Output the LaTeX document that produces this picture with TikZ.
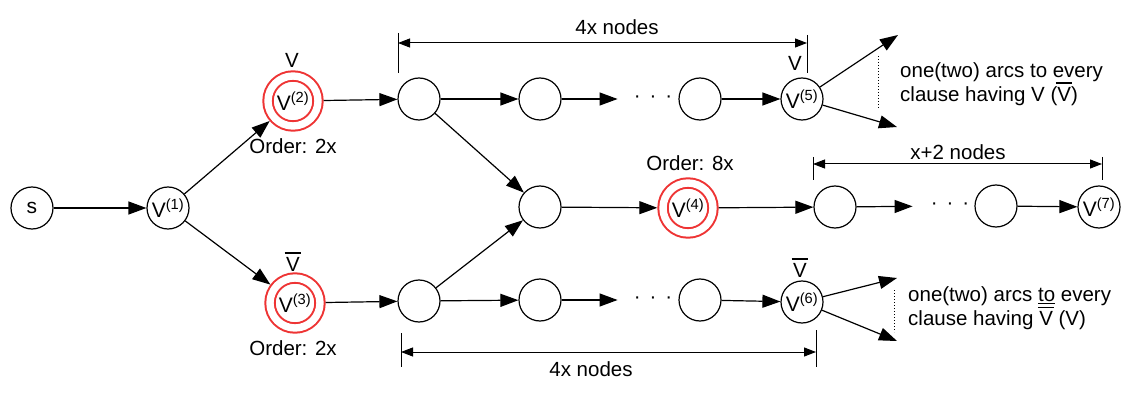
\documentclass[tikz,border=0pt]{standalone}
\usepackage{fontspec}
\setmainfont{Liberation Sans}
\usetikzlibrary{arrows.meta}
\definecolor{ordred}{RGB}{238,52,52}
\newcommand\negV{\leavevmode\rlap{\hspace{-1.5pt}\rule[17.5pt]{16pt}{1.8pt}}V}
\newcommand\dotrow{·\hspace{9pt}·\hspace{9pt}·}

\begin{document}
\begin{tikzpicture}[x=1pt,y=-1pt,every node/.style={font=\fontsize{20.5}{22}\selectfont},
	knot/.style={draw,circle,line width=1.2pt,minimum size=42pt,inner sep=0pt,font=\fontsize{21}{22}\selectfont},
	ordknot/.style={circle,draw=ordred,line width=2pt,double=white,double distance=7.4pt,minimum size=50pt,inner sep=0pt,outer sep=5.7pt,font=\fontsize{21}{22}\selectfont},
	arr/.style={-{Triangle[length=18pt,width=13pt]},line width=1.2pt},
	dim/.style={{Triangle[length=12pt,width=9pt]}-{Triangle[length=12pt,width=9pt]},line width=1pt},
	dots/.style={inner sep=2pt}]
				\useasboundingbox (0,0) rectangle (1125,401);
				\node[knot] (s) at (32,208) {s};
				\node[knot] (v1) at (168,208) {V\textsuperscript{(1)}};
				\node[ordknot] (v2) at (293,101) {V\textsuperscript{(2)}};
				\node[ordknot] (v3) at (295,303) {V\textsuperscript{(3)}};
				\node[knot] (t1) at (419,99) {};
				\node[knot] (t2) at (540,99) {};
				\node[dots] (tdots) at (653,99) {\dotrow};
				\node[knot] (t3) at (700,99) {};
				\node[knot] (v5) at (802,99) {V\textsuperscript{(5)}};
				\node[knot] (m1) at (540,207) {};
				\node[ordknot] (v4) at (688,208) {V\textsuperscript{(4)}};
				\node[knot] (m2) at (835,207) {};
				\node[dots] (mdots) at (950,206) {\dotrow};
				\node[knot] (m3) at (996,206) {};
				\node[knot] (v7) at (1099,207) {V\textsuperscript{(7)}};
				\node[knot] (b1) at (419,301) {};
				\node[knot] (b2) at (540,300) {};
				\node[dots] (bdots) at (653,300) {\dotrow};
				\node[knot] (b3) at (700,300) {};
				\node[knot] (v6) at (802,302) {V\textsuperscript{(6)}};

				\node (lv2) at (292,60) {V};
				\node (o2) at (293,146) {Order: 2x};
				\node (lv3) at (293,262) {\negV};
				\node (o3) at (293,348) {Order: 2x};
				\node (o4) at (690,163) {Order: 8x};
				\node (lv5) at (795,63) {V};
				\node (lv6) at (800,268) {\negV};

				\draw[arr] (s) -- (v1);
				\draw[arr] (v1) -- (v2);
				\draw[arr] (v1) -- (v3);
				\draw[arr] (v2) -- (t1);
				\draw[arr] (t1) -- (t2);
				\draw[arr,shorten >=14pt] (t2) -- (tdots);
				\draw[arr] (t3) -- (v5);
				\draw[arr] (t1) -- (m1);
				\draw[arr] (b1) -- (m1);
				\draw[arr] (v3) -- (b1);
				\draw[arr] (b1) -- (b2);
				\draw[arr,shorten >=14pt] (b2) -- (bdots);
				\draw[arr] (b3) -- (v6);
				\draw[arr] (m1) -- (v4);
				\draw[arr] (v4) -- (m2);
				\draw[arr,shorten >=16pt] (m2) -- (mdots);
				\draw[arr] (m3) -- (v7);

				\coordinate (f5a) at (898,35);
				\coordinate (f5b) at (897,127);
				\draw[arr] (v5) -- (f5a);
				\draw[arr] (v5) -- (f5b);
				\draw[dotted,line width=1pt] (878,56) -- (878,109);
				\node[anchor=west,align=left,inner sep=0pt] (c5) at (900,84) {one(two) arcs to every\\clause having V (\negV)};

				\coordinate (f6a) at (897,278);
				\coordinate (f6b) at (897,341);
				\draw[arr] (v6) -- (f6a);
				\draw[arr] (v6) -- (f6b);
				\draw[dotted,line width=1pt] (894,290) -- (894,332);
				\node[anchor=west,align=left,inner sep=0pt] (c6) at (908,308.4) {one(two) arcs \underline{to} every\\clause having \negV{} (V)};

				\draw[line width=1pt] (398,33) -- (398,73) (807,35) -- (807,73);
				\draw[dim] (398,43) -- (807,43);
				\node (n1) at (617,27) {4x nodes};
				\draw[line width=1pt] (813,157) -- (813,180) (1102,157) -- (1102,180);
				\draw[dim] (813,164) -- (1102,164);
				\node (n2) at (958,152) {x+2 nodes};
				\draw[line width=1pt] (401,333) -- (401,367) (816,330) -- (816,367);
				\draw[dim] (401,352) -- (816,352);
				\node (n3) at (591,369) {4x nodes};

			\end{tikzpicture}
\end{document}
